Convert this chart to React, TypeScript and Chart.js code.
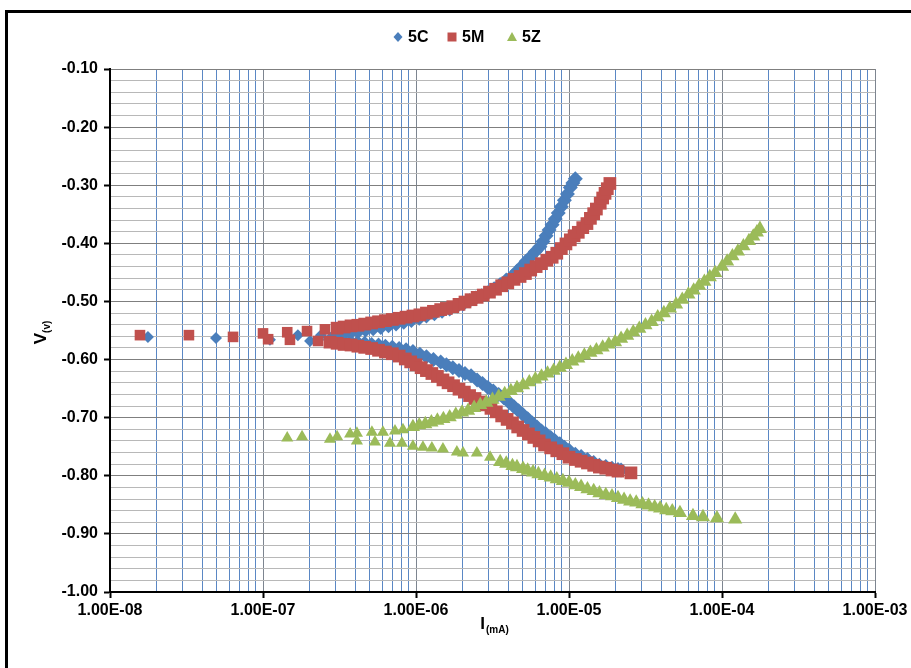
import React, { useEffect, useRef } from "react";
import { Chart, registerables } from "chart.js";

Chart.register(...registerables);

// ---------- data: [current I (mA), potential V (v)] ----------
const c5Scatter: [number, number][] = [
  [1.77e-8, -0.561], [4.93e-8, -0.563], [1.11e-7, -0.566], [1.69e-7, -0.558], [2.03e-7, -0.568], [2.39e-7, -0.558],
];
const c5Anodic: [number, number][] = [
  [2.95e-7, -0.558], [3.31e-7, -0.556], [3.72e-7, -0.554], [4.17e-7, -0.552], [4.68e-7, -0.549], [5.25e-7, -0.547],
  [5.89e-7, -0.545], [6.61e-7, -0.542], [7.41e-7, -0.539], [8.32e-7, -0.536], [9.33e-7, -0.533], [1.05e-6, -0.529],
  [1.17e-6, -0.525], [1.32e-6, -0.521], [1.48e-6, -0.517], [1.66e-6, -0.513], [1.86e-6, -0.508], [2.04e-6, -0.504],
  [2.24e-6, -0.499], [2.45e-6, -0.494], [2.69e-6, -0.490], [2.95e-6, -0.485], [3.24e-6, -0.478], [3.55e-6, -0.471],
  [3.89e-6, -0.463], [4.27e-6, -0.456], [4.57e-6, -0.448], [4.90e-6, -0.440], [5.25e-6, -0.431], [5.62e-6, -0.423],
  [6.03e-6, -0.414], [6.46e-6, -0.406], [6.76e-6, -0.397], [7.08e-6, -0.387], [7.41e-6, -0.377], [7.76e-6, -0.368],
  [8.13e-6, -0.358], [8.51e-6, -0.348], [8.91e-6, -0.337], [9.33e-6, -0.326], [9.77e-6, -0.315], [1.02e-5, -0.304],
  [1.06e-5, -0.296], [1.10e-5, -0.289],
];
const c5Cathodic: [number, number][] = [
  [2.75e-7, -0.566], [3.05e-7, -0.567], [3.39e-7, -0.568], [3.76e-7, -0.570], [4.17e-7, -0.571], [4.62e-7, -0.572],
  [5.13e-7, -0.574], [5.69e-7, -0.575], [6.31e-7, -0.577], [7.00e-7, -0.579], [7.76e-7, -0.581], [8.61e-7, -0.583],
  [9.55e-7, -0.586], [1.06e-6, -0.591], [1.17e-6, -0.595], [1.30e-6, -0.600], [1.45e-6, -0.604], [1.58e-6, -0.609],
  [1.74e-6, -0.614], [1.91e-6, -0.619], [2.09e-6, -0.624], [2.29e-6, -0.628], [2.51e-6, -0.635], [2.72e-6, -0.641],
  [2.95e-6, -0.648], [3.20e-6, -0.654], [3.47e-6, -0.660], [3.76e-6, -0.666], [4.07e-6, -0.674], [4.37e-6, -0.681],
  [4.68e-6, -0.688], [5.01e-6, -0.695], [5.37e-6, -0.702], [5.75e-6, -0.709], [6.17e-6, -0.716], [6.61e-6, -0.723],
  [7.08e-6, -0.728], [7.59e-6, -0.734], [8.13e-6, -0.740], [8.71e-6, -0.745], [9.33e-6, -0.751], [1.00e-5, -0.756],
  [1.10e-5, -0.763], [1.20e-5, -0.767], [1.32e-5, -0.772], [1.45e-5, -0.777], [1.58e-5, -0.782], [1.74e-5, -0.784],
  [1.91e-5, -0.787], [2.09e-5, -0.789], [2.19e-5, -0.790],
];

const m5Scatter: [number, number][] = [
  [1.57e-8, -0.558], [3.28e-8, -0.558], [6.37e-8, -0.561], [1.00e-7, -0.555], [1.08e-7, -0.565], [1.44e-7, -0.553],
  [1.50e-7, -0.566], [1.94e-7, -0.551], [2.29e-7, -0.568], [2.54e-7, -0.548],
];
const m5Anodic: [number, number][] = [
  [3.05e-7, -0.546], [3.39e-7, -0.544], [3.76e-7, -0.542], [4.17e-7, -0.541], [4.62e-7, -0.539], [5.13e-7, -0.537],
  [5.69e-7, -0.535], [6.31e-7, -0.533], [7.00e-7, -0.531], [7.76e-7, -0.529], [8.61e-7, -0.527], [9.55e-7, -0.525],
  [1.06e-6, -0.523], [1.17e-6, -0.520], [1.30e-6, -0.517], [1.45e-6, -0.514], [1.58e-6, -0.512], [1.74e-6, -0.509],
  [1.91e-6, -0.505], [2.09e-6, -0.501], [2.29e-6, -0.497], [2.51e-6, -0.493], [2.75e-6, -0.489], [3.02e-6, -0.484],
  [3.31e-6, -0.479], [3.63e-6, -0.473], [3.98e-6, -0.468], [4.37e-6, -0.462], [4.79e-6, -0.457], [5.19e-6, -0.452],
  [5.62e-6, -0.446], [6.10e-6, -0.440], [6.61e-6, -0.435], [7.16e-6, -0.429], [7.76e-6, -0.424], [8.32e-6, -0.417],
  [8.91e-6, -0.409], [9.55e-6, -0.401], [1.02e-5, -0.394], [1.08e-5, -0.387], [1.15e-5, -0.381], [1.23e-5, -0.373],
  [1.31e-5, -0.366], [1.38e-5, -0.357], [1.45e-5, -0.349], [1.51e-5, -0.341], [1.60e-5, -0.331], [1.66e-5, -0.322],
  [1.72e-5, -0.314], [1.78e-5, -0.306], [1.85e-5, -0.297],
];
const m5Cathodic: [number, number][] = [
  [2.74e-7, -0.570], [3.05e-7, -0.572], [3.39e-7, -0.574], [3.76e-7, -0.575], [4.17e-7, -0.577], [4.62e-7, -0.579],
  [5.13e-7, -0.581], [5.69e-7, -0.584], [6.31e-7, -0.587], [7.00e-7, -0.590], [7.76e-7, -0.594], [8.51e-7, -0.599],
  [9.23e-7, -0.604], [1.00e-6, -0.609], [1.08e-6, -0.614], [1.17e-6, -0.619], [1.27e-6, -0.624], [1.38e-6, -0.629],
  [1.50e-6, -0.635], [1.62e-6, -0.640], [1.76e-6, -0.645], [1.91e-6, -0.651], [2.07e-6, -0.656], [2.24e-6, -0.662],
  [2.43e-6, -0.667], [2.63e-6, -0.673], [2.85e-6, -0.678], [3.09e-6, -0.684], [3.35e-6, -0.690], [3.63e-6, -0.697],
  [3.94e-6, -0.703], [4.27e-6, -0.709], [4.62e-6, -0.716], [5.01e-6, -0.722], [5.43e-6, -0.728], [5.89e-6, -0.734],
  [6.38e-6, -0.740], [6.92e-6, -0.747], [7.59e-6, -0.752], [8.32e-6, -0.757], [9.12e-6, -0.762], [1.00e-5, -0.768],
  [1.10e-5, -0.772], [1.20e-5, -0.775], [1.32e-5, -0.778], [1.45e-5, -0.782], [1.58e-5, -0.785], [1.74e-5, -0.787],
  [1.91e-5, -0.790], [2.09e-5, -0.792], [2.54e-5, -0.795],
];

const z5Scatter: [number, number][] = [
  [1.44e-7, -0.735], [1.80e-7, -0.733], [2.74e-7, -0.737], [3.05e-7, -0.733], [3.71e-7, -0.728], [4.11e-7, -0.727],
  [5.15e-7, -0.725], [6.08e-7, -0.725], [7.29e-7, -0.723], [8.22e-7, -0.721],
  [4.11e-7, -0.740], [5.39e-7, -0.742], [6.76e-7, -0.744], [8.09e-7, -0.744], [9.55e-7, -0.749], [1.11e-6, -0.751],
  [1.27e-6, -0.752], [1.50e-6, -0.754], [1.85e-6, -0.759], [2.03e-6, -0.761], [2.50e-6, -0.761], [3.05e-6, -0.768],
];
const z5Anodic: [number, number][] = [
  [9.55e-7, -0.716], [1.05e-6, -0.713], [1.15e-6, -0.711], [1.26e-6, -0.708], [1.38e-6, -0.705], [1.51e-6, -0.702],
  [1.66e-6, -0.699], [1.82e-6, -0.695], [2.00e-6, -0.691], [2.19e-6, -0.688], [2.40e-6, -0.683], [2.63e-6, -0.678],
  [2.88e-6, -0.674], [3.16e-6, -0.669], [3.47e-6, -0.664], [3.80e-6, -0.659], [4.17e-6, -0.654], [4.57e-6, -0.649],
  [5.01e-6, -0.644], [5.50e-6, -0.639], [6.03e-6, -0.634], [6.61e-6, -0.629], [7.24e-6, -0.624], [7.94e-6, -0.619],
  [8.71e-6, -0.614], [9.55e-6, -0.609], [1.05e-5, -0.603], [1.15e-5, -0.598], [1.26e-5, -0.593], [1.38e-5, -0.588],
  [1.51e-5, -0.584], [1.66e-5, -0.579], [1.82e-5, -0.574], [2.00e-5, -0.570], [2.19e-5, -0.564], [2.40e-5, -0.559],
  [2.63e-5, -0.553], [2.88e-5, -0.547], [3.16e-5, -0.541], [3.47e-5, -0.535], [3.80e-5, -0.527], [4.17e-5, -0.520],
  [4.57e-5, -0.512], [5.01e-5, -0.505], [5.50e-5, -0.497], [6.03e-5, -0.488], [6.53e-5, -0.481], [7.08e-5, -0.473],
  [7.67e-5, -0.466], [8.32e-5, -0.458], [9.02e-5, -0.451], [1.00e-4, -0.440], [1.08e-4, -0.431], [1.17e-4, -0.422],
  [1.27e-4, -0.414], [1.38e-4, -0.405], [1.50e-4, -0.396], [1.60e-4, -0.388], [1.69e-4, -0.381], [1.77e-4, -0.375],
];
const z5Cathodic: [number, number][] = [
  [3.55e-6, -0.776], [3.89e-6, -0.779], [4.27e-6, -0.783], [4.57e-6, -0.785], [5.01e-6, -0.788], [5.37e-6, -0.791],
  [5.82e-6, -0.794], [6.31e-6, -0.797], [6.92e-6, -0.800], [7.59e-6, -0.803], [8.32e-6, -0.806], [9.12e-6, -0.809],
  [1.00e-5, -0.812], [1.10e-5, -0.816], [1.20e-5, -0.819], [1.32e-5, -0.823], [1.45e-5, -0.826], [1.58e-5, -0.830],
  [1.74e-5, -0.833], [1.91e-5, -0.835], [2.09e-5, -0.838], [2.29e-5, -0.841], [2.51e-5, -0.844], [2.75e-5, -0.846],
  [3.02e-5, -0.849], [3.31e-5, -0.851], [3.63e-5, -0.854], [3.94e-5, -0.856], [4.32e-5, -0.859], [4.73e-5, -0.861],
  [5.31e-5, -0.864], [6.46e-5, -0.869], [7.51e-5, -0.871], [9.27e-5, -0.873], [1.22e-4, -0.875],
];

const seriesNames = ["5C", "5M", "5Z"];
const seriesColors = ["#4A7EBB", "#C0504D", "#9BBB59"];
const xDecades = [1e-8, 1e-7, 1e-6, 1e-5, 1e-4, 1e-3];
const xTickLabels = ["1.00E-08", "1.00E-07", "1.00E-06", "1.00E-05", "1.00E-04", "1.00E-03"];
const xMultiples = [1, 2, 3, 4, 5, 6, 7, 8, 9];
const yMin = -1.0;
const yMax = -0.1;
const yMajorStep = 0.1;
const yMinorStep = 0.02;
const yTitle = "V";
const yTitleSub = "(v)";
const xTitle = "I";
const xTitleSub = "(mA)";

const FONT = "'Liberation Sans', Arial, sans-serif";

const toPoints = (arr: [number, number][]) => arr.map(([x, y]) => ({ x, y }));
const isDecade = (v: number) => xDecades.some((d) => Math.abs(v / d - 1) < 1e-6);
const isYMajor = (v: number) => Math.abs(v / yMajorStep - Math.round(v / yMajorStep)) < 1e-6;

const xGridValues: number[] = [];
xDecades.forEach((d, i) => {
  if (i < xDecades.length - 1) xMultiples.forEach((m) => xGridValues.push(m * d));
  else xGridValues.push(d);
});

// marker radius: isolated near-Ecorr points smaller than the dense branches
const radiusFor = (scatterCount: number, small: number, big: number) => (c: any) =>
  c.dataIndex < scatterCount ? small : big;

const overlayPlugin = {
  id: "overlay",
  afterDraw(chart: any) {
    const ctx = chart.ctx as CanvasRenderingContext2D;
    ctx.save();
    // legend
    const ly = 37;
    const items = [
      { x: 398, style: "diamond" },
      { x: 452, style: "square" },
      { x: 512, style: "triangle" },
    ];
    ctx.font = `bold 16px ${FONT}`;
    ctx.textBaseline = "middle";
    ctx.textAlign = "left";
    items.forEach((it, i) => {
      ctx.fillStyle = seriesColors[i];
      ctx.beginPath();
      if (it.style === "diamond") {
        ctx.moveTo(it.x, ly - 5);
        ctx.lineTo(it.x + 4.5, ly);
        ctx.lineTo(it.x, ly + 5);
        ctx.lineTo(it.x - 4.5, ly);
      } else if (it.style === "square") {
        ctx.rect(it.x - 4.5, ly - 4.5, 9, 9);
      } else {
        ctx.moveTo(it.x, ly - 5);
        ctx.lineTo(it.x + 5, ly + 4);
        ctx.lineTo(it.x - 5, ly + 4);
      }
      ctx.closePath();
      ctx.fill();
      ctx.fillStyle = "#000";
      ctx.fillText(seriesNames[i], it.x + 10, ly + 1);
    });

    // y title
    const { chartArea } = chart;
    const cy = (chartArea.top + chartArea.bottom) / 2;
    ctx.save();
    ctx.translate(40, cy + 2);
    ctx.rotate(-Math.PI / 2);
    ctx.font = `bold 17px ${FONT}`;
    const wV = ctx.measureText(yTitle).width;
    ctx.font = `bold 10px ${FONT}`;
    const wSub = ctx.measureText(yTitleSub).width;
    const start = -(wV + wSub) / 2;
    ctx.textBaseline = "alphabetic";
    ctx.fillStyle = "#000";
    ctx.font = `bold 17px ${FONT}`;
    ctx.fillText(yTitle, start, 6);
    ctx.font = `bold 10px ${FONT}`;
    ctx.fillText(yTitleSub, start + wV, 10);
    ctx.restore();

    // x title
    ctx.font = `bold 17px ${FONT}`;
    const wI = ctx.measureText(xTitle).width;
    ctx.font = `bold 10px ${FONT}`;
    const wS = ctx.measureText(xTitleSub).width;
    const cx = 494;
    const sx = cx - (wI + wS) / 2;
    ctx.textBaseline = "alphabetic";
    ctx.fillStyle = "#000";
    ctx.font = `bold 17px ${FONT}`;
    ctx.fillText(xTitle, sx, 629);
    ctx.font = `bold 10px ${FONT}`;
    ctx.fillText(xTitleSub, sx + wI + 1, 633);
    ctx.restore();
  },
};

export default function App() {
  const canvasRef = useRef<HTMLCanvasElement | null>(null);

  useEffect(() => {
    if (!canvasRef.current) return;
    const chart = new Chart(canvasRef.current, {
      type: "scatter",
      data: {
        datasets: [
          {
            label: seriesNames[0],
            data: toPoints([...c5Scatter, ...c5Anodic, ...c5Cathodic]),
            pointStyle: "rectRot",
            pointRadius: radiusFor(c5Scatter.length, 6, 7.5),
            backgroundColor: seriesColors[0],
            borderColor: seriesColors[0],
            borderWidth: 0,
            showLine: false,
            order: 3,
          },
          {
            label: seriesNames[1],
            data: toPoints([...m5Scatter, ...m5Anodic, ...m5Cathodic]),
            pointStyle: "rect",
            pointRadius: radiusFor(m5Scatter.length, 7.5, 9),
            backgroundColor: seriesColors[1],
            borderColor: seriesColors[1],
            borderWidth: 0,
            showLine: false,
            order: 2,
          },
          {
            label: seriesNames[2],
            data: toPoints([...z5Scatter, ...z5Anodic, ...z5Cathodic]),
            pointStyle: "triangle",
            pointRadius: radiusFor(z5Scatter.length, 7, 8.2),
            backgroundColor: seriesColors[2],
            borderColor: seriesColors[2],
            borderWidth: 0,
            showLine: false,
            order: 1,
          },
        ],
      },
      options: {
        animation: false,
        responsive: false,
        maintainAspectRatio: false,
        events: [],
        layout: { padding: { top: 69, right: 36, left: 0, bottom: 0 } },
        plugins: { legend: { display: false }, tooltip: { enabled: false } },
        scales: {
          x: {
            type: "logarithmic",
            min: xDecades[0],
            max: xDecades[xDecades.length - 1],
            afterBuildTicks: (scale: any) => {
              scale.ticks = xGridValues.map((v) => ({ value: v }));
            },
            afterFit: (scale: any) => {
              scale.height = 76;
            },
            ticks: {
              autoSkip: false,
              maxRotation: 0,
              minRotation: 0,
              padding: 3,
              color: "#000",
              font: { family: FONT, size: 16, weight: "bold" },
              callback: (value: any) => {
                const v = Number(value);
                const i = xDecades.findIndex((d) => Math.abs(v / d - 1) < 1e-6);
                return i >= 0 ? xTickLabels[i] : "";
              },
            },
            grid: {
              color: (c: any) => (c.tick && isDecade(c.tick.value) ? "#7d8590" : "#5a87c4"),
              lineWidth: 1,
              tickLength: 6,
              tickWidth: 2,
              tickColor: (c: any) => (c.tick && isDecade(c.tick.value) ? "#000" : "rgba(0,0,0,0)"),
            },
            border: { display: true, color: "#000", width: 2 },
          },
          y: {
            type: "linear",
            min: yMin,
            max: yMax,
            afterFit: (scale: any) => {
              scale.width = 110;
            },
            ticks: {
              stepSize: yMinorStep,
              autoSkip: false,
              padding: 6,
              color: "#000",
              font: { family: FONT, size: 16, weight: "bold" },
              callback: (value: any) => {
                const v = Number(value);
                return isYMajor(v) ? v.toFixed(2) : "";
              },
            },
            grid: {
              color: (c: any) => (c.tick && isYMajor(c.tick.value) ? "#7f7f7f" : "#b8b8b8"),
              lineWidth: 1,
              tickLength: 6,
              tickWidth: 2,
              tickColor: (c: any) => (c.tick && isYMajor(c.tick.value) ? "#000" : "rgba(0,0,0,0)"),
            },
            border: { display: true, color: "#000", width: 2 },
          },
        },
      } as any,
      plugins: [overlayPlugin],
    });
    return () => chart.destroy();
  }, []);

  return (
    <div style={{ position: "absolute", left: 0, top: 0, width: 911, height: 668, background: "#fff", overflow: "hidden" }}>
      <div
        style={{
          position: "absolute",
          left: 5,
          top: 10,
          width: 940,
          height: 700,
          border: "3px solid #000",
          boxSizing: "border-box",
        }}
      />
      <canvas
        ref={canvasRef}
        width={911}
        height={668}
        style={{ position: "absolute", left: 0, top: 0, width: 911, height: 668 }}
      />
    </div>
  );
}
